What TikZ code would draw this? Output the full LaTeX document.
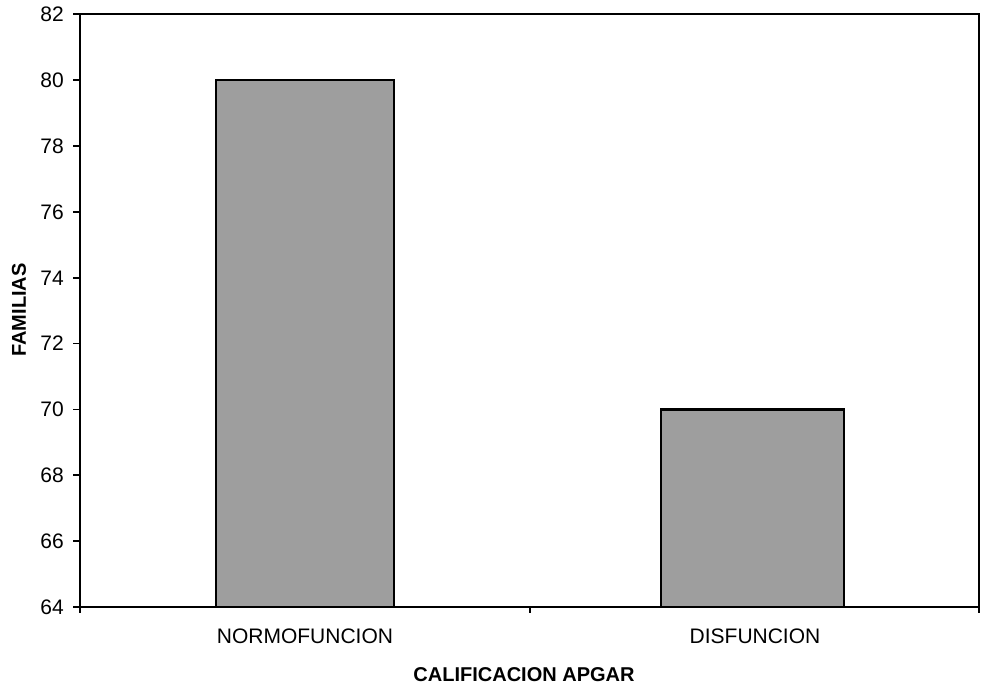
\documentclass[tikz,border=0pt]{standalone}
\usepackage{fontspec}
\setmainfont{Liberation Sans}
\begin{document}
\begin{tikzpicture}[x=1pt,y=-1pt,
  axisline/.style={line width=2pt,black},
  barbox/.style={draw=black,line width=2.6pt,fill=black!38},
  ticklbl/.style={font=\fontsize{21}{24}\selectfont,anchor=east,inner sep=0pt},
  catlbl/.style={font=\fontsize{21}{24}\selectfont,inner sep=0pt},
  titlelbl/.style={font=\bfseries\fontsize{20}{24}\selectfont,inner sep=0pt}]
\useasboundingbox (0,0) rectangle (983,687);
% bars
\draw[barbox] (216,607) rectangle (394,80.1);
\draw[barbox] (661,607) rectangle (844,409.3);
% frame
\draw[axisline] (80,14) rectangle (979,607);
% y ticks and labels
\foreach \v/\yy in {82/14,80/80.1,78/146,76/211.9,74/277.8,72/343.4,70/409.3,68/475.2,66/541.1,64/607}{
  \draw[line width=1.5pt] (73,\yy) -- (80,\yy);
  \node[ticklbl] (t\v) at (64,\yy) {\v};
}
% x ticks
\foreach \xx in {80,530,979}{
  \draw[line width=1.5pt] (\xx,607) -- (\xx,613);
}
\node[catlbl] (c1) at (305,636) {NORMOFUNCION};
\node[catlbl] (c2) at (755,636) {DISFUNCION};
\node[titlelbl] (xt) at (524,675) {CALIFICACION APGAR};
\node[titlelbl,rotate=90] (yt) at (19,310) {FAMILIAS};
\end{tikzpicture}
\end{document}
